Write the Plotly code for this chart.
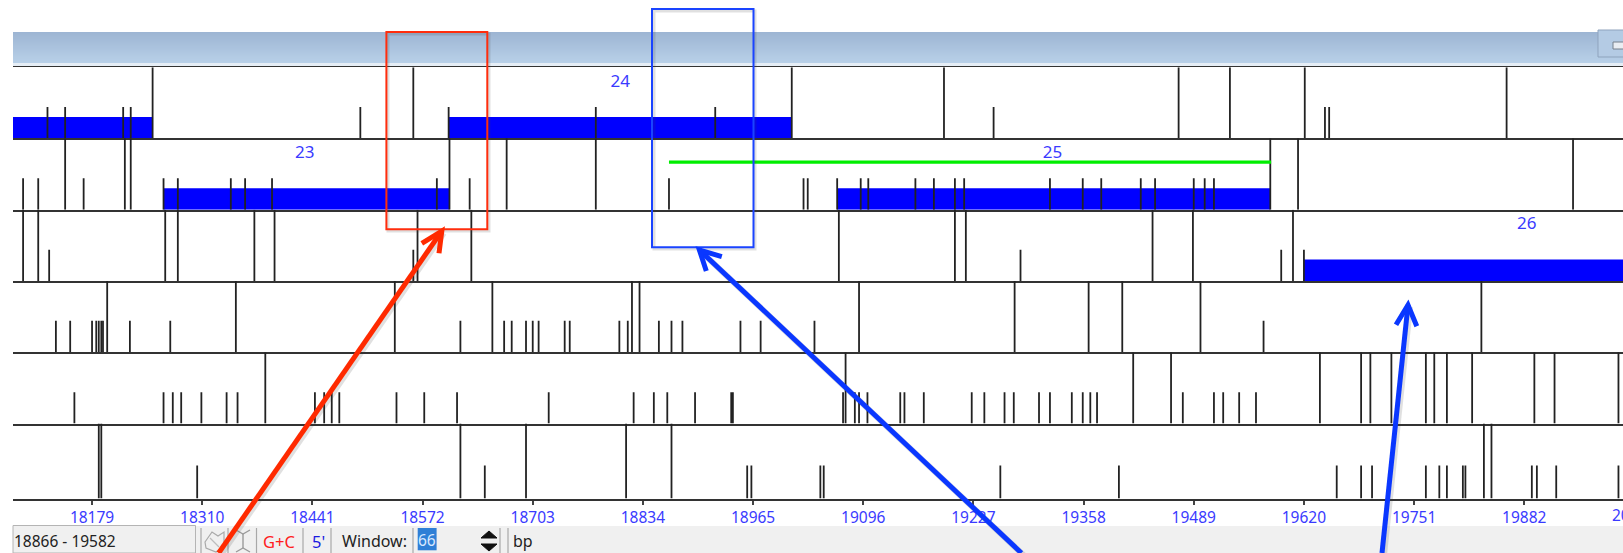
import plotly.graph_objects as go
from plotly.subplots import make_subplots

# ---------- data (bp positions) ----------
tick_vals = [18179, 18310, 18441, 18572, 18703, 18834, 18965, 19096, 19227,
             19358, 19489, 19620, 19751, 19882]

tall_1 = [18251, 18561, 19011, 19192, 19471, 19532, 19621, 19861]
short_1 = [18126, 18147, 18216, 18225, 18498, 18603, 18778, 18920, 19251, 19645, 19650]
orf_1 = [(18085, 18251), (18603, 19011)]

tall_2 = [18147, 18218, 18225, 18604, 18672, 18778, 19580, 19613, 19940]
short_2 = [18097, 18115, 18169, 18264, 18281, 18344, 18361, 18393, 18589, 18628,
           18865, 19025, 19030, 19065, 19093, 19102, 19158, 19180, 19205, 19216,
           19318, 19357, 19379, 19426, 19443, 19489, 19502, 19513]
orf_2 = [(18264, 18604), (19065, 19580)]

tall_3 = [18097, 18115, 18266, 18281, 18372, 18396, 18566, 18630, 19067, 19205,
          19218, 19440, 19488, 19607]
short_3 = [18128, 18561, 19283, 19593, 19620]
orf_3 = [(19620, 20003)]

tall_4 = [18197, 18350, 18539, 18655, 18821, 18830, 19091, 19276, 19364, 19404,
          19497, 19831]
short_4 = [18136, 18153, 18179, 18184, 18187, 18190, 18192, 18224, 18272, 18617,
           18669, 18678, 18695, 18703, 18710, 18741, 18747, 18806, 18816, 18853,
           18868, 18881, 18950, 18974, 19038, 19572]

tall_5 = [18385, 19075, 19417, 19462, 19639, 19688, 19699, 19724, 19765, 19775,
          19790, 19820, 19894, 19918, 19994]
short_5 = [18158, 18264, 18275, 18285, 18309, 18339, 18352, 18444, 18455, 18464,
           18473, 18541, 18574, 18613, 18722, 18823, 18847, 18863, 18896, 18939,
           18941, 19072, 19086, 19091, 19101, 19140, 19145, 19168, 19225, 19240,
           19264, 19275, 19305, 19318, 19344, 19357, 19366, 19374, 19476, 19513,
           19524, 19543, 19563]

tall_6 = [18187, 18190, 18617, 18695, 18814, 18868, 19834, 19843]
short_6 = [18304, 18646, 18958, 18963, 19045, 19049, 19259, 19400, 19659, 19688,
           19701, 19765, 19781, 19790, 19809, 19812, 19891, 19897, 19920, 19994]

tall_rows = [tall_1, tall_2, tall_3, tall_4, tall_5, tall_6]
short_rows = [short_1, short_2, short_3, short_4, short_5, short_6]
orf_rows = [orf_1, orf_2, orf_3, [], [], []]

frame_labels = ["24", "23", "25", "26"]
frame_label_x = [18807, 18432, 19321, 19885]
frame_label_row = [1, 2, 2, 3]
green_span = [18865, 19581]

# ---------- layout constants ----------
W, H = 1623, 553
row_tops = [67.3, 138.3, 209.7, 281, 352.2, 423.6]
row_bots = [138.3, 209.7, 281, 352.2, 423.6, 498.6]
X_RANGE = [18085, 19999.4]
SHORT = 0.44
ORF = 0.30
LINE = "#222222"
TEXT_BLUE = "#3a3aff"
FONT = "Noto Sans"


def px(x):
    return x / W


def py(y):
    return 1 - y / H


fig = make_subplots(rows=6, cols=1, shared_xaxes=True, vertical_spacing=0)


def stems(xs, top):
    out_x, out_y = [], []
    for v in xs:
        out_x += [v, v, None]
        out_y += [0, top, None]
    return out_x, out_y


for i in range(6):
    r = i + 1
    for s, e in orf_rows[i]:
        fig.add_trace(go.Bar(x=[(s + e) / 2], y=[ORF], width=[e - s],
                             marker=dict(color="#0000ff", line=dict(width=0)),
                             hoverinfo="skip", showlegend=False), row=r, col=1)
    x, y = stems(short_rows[i], SHORT)
    fig.add_trace(go.Scatter(x=x, y=y, mode="lines", line=dict(color=LINE, width=1.8),
                             hoverinfo="skip", showlegend=False), row=r, col=1)
    x, y = stems(tall_rows[i], 1)
    fig.add_trace(go.Scatter(x=x, y=y, mode="lines", line=dict(color=LINE, width=1.8),
                             hoverinfo="skip", showlegend=False), row=r, col=1)
    fig.update_yaxes(range=[0, 1], domain=[py(row_bots[i]), py(row_tops[i])],
                     visible=False, fixedrange=True, row=r, col=1)
    fig.update_xaxes(range=X_RANGE, domain=[px(13), 1], showgrid=False, zeroline=False,
                     showline=True, linecolor="#333333", linewidth=2,
                     mirror=(i == 0), fixedrange=True, row=r, col=1)

fig.add_trace(go.Scatter(x=green_span, y=[0.665, 0.665], mode="lines",
                         line=dict(color="#00ee00", width=3.2),
                         hoverinfo="skip", showlegend=False), row=2, col=1)

for lab, lx, lr in zip(frame_labels, frame_label_x, frame_label_row):
    fig.add_trace(go.Scatter(x=[lx], y=[0.785], mode="text", text=[lab],
                             textfont=dict(color=TEXT_BLUE, size=17, family=FONT),
                             hoverinfo="skip", showlegend=False), row=lr, col=1)

fig.update_xaxes(tickmode="array", tickvals=tick_vals,
                 ticktext=[str(v) for v in tick_vals], ticks="outside", ticklen=4,
                 tickcolor="#444444", tickwidth=1.5,
                 tickfont=dict(color=TEXT_BLUE, size=15.5, family=FONT), row=6, col=1)
for i in range(1, 6):
    fig.update_xaxes(showticklabels=False, ticks="", row=i, col=1)

shapes = []


def rect(x0, y0, x1, y1, fill=None, line=None, lw=0, layer="above"):
    shapes.append(dict(type="rect", xref="paper", yref="paper", x0=px(x0), x1=px(x1),
                       y0=py(y0), y1=py(y1), fillcolor=fill or "rgba(0,0,0,0)",
                       line=dict(color=line or "rgba(0,0,0,0)", width=lw), layer=layer))


def poly(points, color, lw, fill=None, closed=False):
    d = "M " + " L ".join(f"{px(x)} {py(y)}" for x, y in points) + (" Z" if closed else "")
    shapes.append(dict(type="path", xref="paper", yref="paper", path=d,
                       fillcolor=fill or "rgba(0,0,0,0)", line=dict(color=color, width=lw)))


# window title bar gradient
c0, c1 = (157, 181, 211), (184, 208, 232)
for k in range(31):
    t = k / 30
    col = "rgb(%d,%d,%d)" % tuple(round(a + (b - a) * t) for a, b in zip(c0, c1))
    rect(13, 32 + k, W, 33.2 + k, fill=col)
rect(13, 63, W, 66, fill="#e6eef6")
# window button
rect(1598, 30, 1630, 57, fill="#b4cbe4", line="#8ea3bd", lw=1)
rect(1613, 42, 1628, 49, fill="#e9edf2", line="#77808c", lw=1)

# bottom toolbar
rect(13, 526, W, 553, fill="#f0f0f0")
rect(13, 525.5, 195.5, 553, fill="#f0f0f0", line="#b4b4b4", lw=1)
for zx in [201, 228, 256.5, 303, 331, 413, 500, 508]:
    poly([(zx, 528), (zx, 553)], "#a8a8a8", 1.2)
rect(417.7, 528, 436.6, 550.3, fill="#2f7fd6")
poly([(481, 538), (489, 531), (497, 538)], "#111111", 1, fill="#111111", closed=True)
poly([(481, 544), (489, 551), (497, 544)], "#111111", 1, fill="#111111", closed=True)
# toolbar icons
poly([(205, 542), (212, 532), (218, 536), (224, 532), (224, 546), (216, 552), (206, 548)],
     "#a9a9a9", 1.2, closed=True)
poly([(210, 538), (219, 547)], "#bdbdbd", 1.2)
poly([(236, 530), (243, 534), (250, 530)], "#9a9a9a", 1.4)
poly([(243, 534), (243, 548)], "#9a9a9a", 1.4)
poly([(236, 552), (243, 548), (250, 552)], "#9a9a9a", 1.4)

SHADOW = "rgba(60,60,60,0.16)"
# highlight boxes
rect(388, 34, 489, 231, line=SHADOW, lw=3)
rect(654, 11, 755, 249, line=SHADOW, lw=3)
rect(386.4, 32, 487.3, 229.3, line="#ff2d0d", lw=2)
rect(652, 9, 753.5, 247.3, line="#1a44ff", lw=2)

# arrows
red = "#ff2a00"
blue = "#0a37ff"
for col, shaft, wings in [
    (red, [(218.7, 553), (441.8, 231)], [(421.8, 243.3), (441.8, 231), (439, 253.3)]),
    (blue, [(1021.4, 553), (699.4, 250)], [(721.8, 256.7), (699.4, 250), (706.3, 271)]),
    (blue, [(1382, 553), (1408, 305)], [(1396, 324.7), (1408, 305), (1416.8, 326.3)]),
]:
    poly([(x + 2, y + 2) for x, y in shaft], SHADOW, 6)
    poly(shaft, col, 5)
    poly(wings, col, 5)

annots = []


def note(text, x, y, color="#222222", size=15.5, anchor="left"):
    annots.append(dict(text=text, xref="paper", yref="paper", x=px(x), y=py(y),
                       xanchor=anchor, yanchor="middle", showarrow=False,
                       font=dict(family=FONT, size=size, color=color)))


note("20013", 1634, 514.5, TEXT_BLUE, anchor="center")
note("18866 - 19582", 118, 541, anchor="right", size=15.5)
note("G+C", 261, 541, "#ff2020", size=16.5)
note("5'", 310, 541, "#1a1ae0", size=16.5)
note("Window:", 340, 541, size=16)
note("66", 427, 540, "#d8e8ff", anchor="center")
note("bp", 511, 541, size=16)

fig.update_layout(width=W, height=H, margin=dict(l=0, r=0, t=0, b=0), autosize=False,
                  paper_bgcolor="white", plot_bgcolor="white", barmode="overlay",
                  showlegend=False, shapes=shapes, annotations=annots,
                  font=dict(family=FONT))

fig.write_html("out.html", config=dict(displayModeBar=False),
               post_script="document.body.style.margin='0';document.body.style.overflow='hidden';")
